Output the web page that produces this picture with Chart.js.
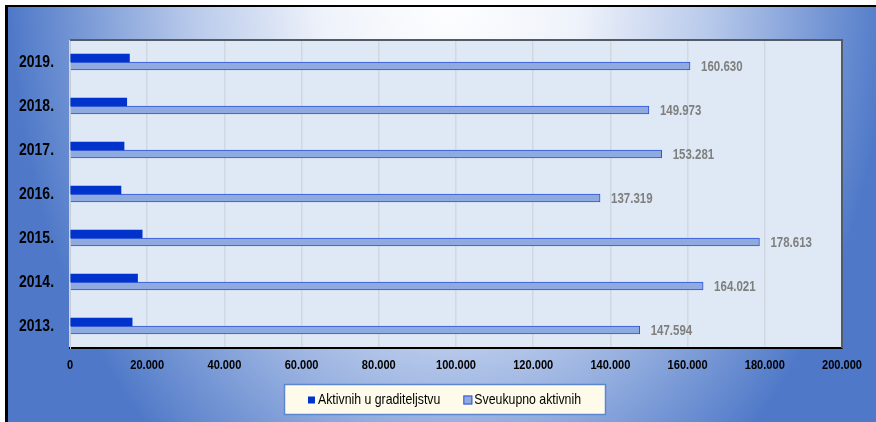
<!DOCTYPE html>
<html><head><meta charset="utf-8">
<script src="https://cdn.jsdelivr.net/npm/chart.js@4/dist/chart.umd.min.js"></script>
<style>html,body{margin:0;padding:0;background:#fff}#wrap{width:876px;height:422px;position:relative}canvas{display:block}</style>
</head><body><div id="wrap"><canvas id="c" width="876" height="422"></canvas></div>
<script>
const years = ['2019.', '2018.', '2017.', '2016.', '2015.', '2014.', '2013.'];
const aktivnihUGraditeljstvu = [15400, 14700, 14000, 13200, 18700, 17500, 16100];
const sveukupnoAktivnih = [160630, 149973, 153281, 137319, 178613, 164021, 147594];
const xTickValues = [0, 20000, 40000, 60000, 80000, 100000, 120000, 140000, 160000, 180000, 200000];
const seriesNames = ['Aktivnih u graditeljstvu', 'Sveukupno aktivnih'];

const FONT = "'Liberation Sans', Arial, sans-serif";
const NARROW = 0.82;
function fmt(v) {
  return String(Math.round(v)).replace(/\B(?=(\d{3})+(?!\d))/g, '.');
}
function narrowText(ctx, text, x, y, align) {
  ctx.save();
  ctx.translate(x, y);
  ctx.scale(NARROW, 1);
  ctx.textAlign = align;
  ctx.fillText(text, 0, 0);
  ctx.restore();
}

const bgPlugin = {
  id: 'bg',
  beforeDraw(chart) {
    const ctx = chart.ctx, W = chart.width, H = chart.height;
    ctx.save();
    ctx.fillStyle = '#ffffff';
    ctx.fillRect(0, 0, W, H);
    ctx.beginPath(); ctx.rect(6, 6, W - 6, H - 6); ctx.clip();
    ctx.translate(450, -20);
    ctx.scale(1, 1.4);
    const g = ctx.createRadialGradient(0, 0, 0, 0, 0, 440);
    g.addColorStop(0, '#ffffff');
    g.addColorStop(0.3, '#eef2fa');
    g.addColorStop(0.6, '#b6c8ea');
    g.addColorStop(1, '#4f79c8');
    ctx.fillStyle = g;
    ctx.fillRect(-600, -50, 1300, 500);
    ctx.restore();
    const a = chart.chartArea;
    ctx.save();
    ctx.fillStyle = '#dee9f5';
    ctx.fillRect(a.left, a.top, a.right - a.left, a.bottom - a.top);
    ctx.restore();
  },
  afterDatasetsDraw(chart) {
    const ctx = chart.ctx, a = chart.chartArea;
    const meta = chart.getDatasetMeta(1);
    ctx.save();
    ctx.font = 'bold 14px ' + FONT;
    ctx.fillStyle = '#7f7f7f';
    ctx.textBaseline = 'middle';
    meta.data.forEach((bar, i) => {
      narrowText(ctx, fmt(chart.data.datasets[1].data[i]), bar.x + 11, bar.y + 1, 'left');
    });
    ctx.restore();
    ctx.save();
    ctx.strokeStyle = '#515c68';
    ctx.lineWidth = 2;
    ctx.beginPath();
    ctx.moveTo(a.left, a.top); ctx.lineTo(a.right, a.top); ctx.lineTo(a.right, a.bottom);
    ctx.stroke();
    ctx.restore();
  },
  afterDraw(chart) {
    const ctx = chart.ctx, W = chart.width, H = chart.height;
    // axis tick labels (narrow type, positions from the chart's scales)
    const xs = chart.scales.x, ys = chart.scales.y;
    ctx.save();
    ctx.fillStyle = '#000';
    ctx.textBaseline = 'middle';
    ctx.font = 'bold 13.5px ' + FONT;
    xs.ticks.forEach(t => {
      narrowText(ctx, fmt(t.value), xs.getPixelForValue(t.value), xs.top + 17, 'center');
    });
    ctx.font = 'bold 17px ' + FONT;
    ys.ticks.forEach((t, i) => {
      narrowText(ctx, chart.data.labels[t.value], ys.right - 16, ys.getPixelForTick(i), 'right');
    });
    ctx.restore();
    // outer frame
    ctx.save();
    ctx.strokeStyle = '#000';
    ctx.lineWidth = 2;
    ctx.beginPath(); ctx.moveTo(6, 6); ctx.lineTo(W, 6); ctx.stroke();
    ctx.lineWidth = 3;
    ctx.beginPath(); ctx.moveTo(6.5, 5); ctx.lineTo(6.5, H); ctx.stroke();
    ctx.restore();
    // legend
    const ds = chart.data.datasets;
    const bx = 284, by = 384, bw = 321, bh = 30;
    ctx.save();
    ctx.fillStyle = '#fefbea';
    ctx.fillRect(bx, by, bw, bh);
    ctx.strokeStyle = '#5c86d0';
    ctx.lineWidth = 1.5;
    ctx.strokeRect(bx + 0.5, by + 0.5, bw, bh);
    ctx.font = '15px ' + FONT;
    ctx.textBaseline = 'middle';
    const cy = by + 16;
    const t1 = ctx.measureText(ds[0].label).width * NARROW;
    const t2 = ctx.measureText(ds[1].label).width * NARROW;
    const total = 7 + 3 + t1 + 23 + 9 + 2 + t2;
    let x = bx + bw / 2 - total / 2;
    ctx.fillStyle = ds[0].backgroundColor;
    ctx.fillRect(x, cy - 3.5, 7, 7);
    x += 10;
    ctx.fillStyle = '#000';
    narrowText(ctx, ds[0].label, x, cy, 'left');
    x += t1 + 23;
    ctx.fillStyle = ds[1].backgroundColor;
    ctx.fillRect(x, cy - 4.5, 9, 9);
    ctx.strokeStyle = ds[1].borderColor;
    ctx.lineWidth = 1;
    ctx.strokeRect(x + 0.5, cy - 4, 8, 8);
    x += 11;
    ctx.fillStyle = '#000';
    narrowText(ctx, ds[1].label, x, cy, 'left');
    ctx.restore();
  }
};

new Chart(document.getElementById('c'), {
  type: 'bar',
  data: {
    labels: years,
    datasets: [
      { label: seriesNames[0], data: aktivnihUGraditeljstvu, backgroundColor: '#0033cc', borderWidth: 0, barThickness: 8 },
      { label: seriesNames[1], data: sveukupnoAktivnih, backgroundColor: '#8eaadf', borderColor: '#2e55d8', borderWidth: 1, barThickness: 8 }
    ]
  },
  options: {
    indexAxis: 'y',
    responsive: false,
    animation: false,
    devicePixelRatio: 1,
    layout: { padding: { left: 0, right: 34, top: 40, bottom: 0 } },
    plugins: { legend: { display: false }, tooltip: { enabled: false } },
    scales: {
      x: {
        type: 'linear', min: 0, max: 200000,
        afterBuildTicks: s => { s.ticks = xTickValues.map(v => ({ value: v })); },
        ticks: { display: false, callback: v => fmt(v) },
        grid: { color: '#d1d8e1', lineWidth: 1.5, drawTicks: false },
        border: { color: '#000', width: 2 },
        afterFit: s => { s.height = 74; }
      },
      y: {
        ticks: { display: false },
        grid: { display: false, drawTicks: false },
        border: { color: '#c5ccd6', width: 1 },
        afterFit: s => { s.width = 70; }
      }
    }
  },
  plugins: [bgPlugin]
});
</script>
</body></html>
